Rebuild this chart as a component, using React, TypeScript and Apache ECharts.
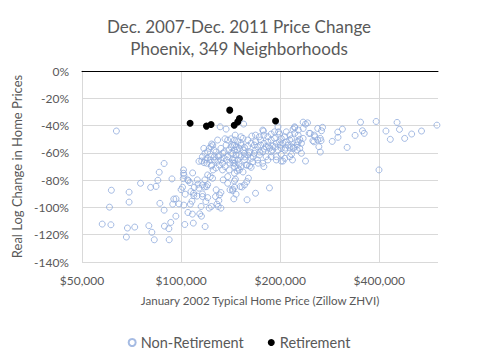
import React, { useEffect, useRef } from 'react';
import * as echarts from 'echarts';

const titleLines = ['Dec. 2007-Dec. 2011 Price Change', 'Phoenix, 349 Neighborhoods'];
const xAxisName = 'January 2002 Typical Home Price (Zillow ZHVI)';
const yAxisName = 'Real Log Change in Home Prices';
const seriesNames = ['Non-Retirement', 'Retirement'];

// x axis: log base 2 of price, ticks at $50,000 x 2^n
const xMinPrice = 50000;
const xMaxPrice = 603000;
// y axis in percent
const yMin = -140;
const yMax = 0;
const yInterval = 20;

// [January 2002 ZHVI in $ thousands, real log change in %]
const nonRetirement: [number, number][] = [
  [63.6,-44.0],[57.6,-112.2],[61.2,-112.7],[60.6,-99.8],[61.4,-87.4],[69.5,-88.8],[69.5,-96.1],[68.2,-121.7],[68.7,-115.1],[72.3,-114.4],
  [75.3,-82.3],[79.8,-113.4],[81.5,-118.2],[82.9,-123.7],[80.8,-85.3],[83.9,-84.6],[85.0,-80.1],[85.8,-74.2],[86.2,-97.0],[88.8,-102.0],
  [88.8,-67.8],[89.0,-113.7],[91.8,-115.6],[92.0,-123.7],[93.0,-111.0],[93.8,-79.1],[94.3,-97.6],[95.0,-93.9],[96.4,-106.4],[96.5,-93.7],
  [98.5,-97.4],[100,-86.9],[101.0,-85.2],[101.5,-78.9],[101.7,-75.0],[101.7,-72.5],[102,-76.5],[101.9,-98.3],[102.6,-112.5],[102.9,-90.3],
  [104.9,-103.7],[105.2,-80.4],[106.4,-81.8],[106.7,-97.6],[108.4,-74.7],[108.2,-104.9],[108.9,-111.5],[107.9,-95.4],[109.1,-89.6],[109.7,-85.2],
  [111.7,-91.7],[112.5,-83.0],[113.3,-66.2],[113.9,-104.7],[115.3,-106.4],[115.0,-99.3],[116.1,-90.1],[117.8,-85.0],[118.3,-114.0],[118.9,-95.7],
  [119.5,-84.7],[120.4,-83.3],[118.1,-79.8],[120.4,-76.2],[120.4,-92.8],[121.7,-100.5],[122.6,-65.2],[123.5,-69.6],[123.5,-99.3],[122.6,-77.4],
  [125.1,-72.5],[127.2,-92.0],[127.8,-87.1],[128.5,-97.6],[129.6,-99.3],[130.2,-95.0],[130.8,-90.8],[132.1,-89.1],[132.1,-100.5],[131.4,-40.9],
  [137,-42.6],[129.1,-50.6],[135.9,-49.7],[138.5,-50.6],[141.8,-49.7],[123.8,-53.5],[123.3,-55.5],[121.7,-56.7],[120.4,-59.2],[118.1,-60.3],
  [116.1,-62.8],[117.5,-67.2],[118.6,-65.2],[119.8,-67.6],[117.2,-56.7],[125.9,-57.9],
  [120.4,-64.0],[123.3,-62.8],[126.2,-62.8],[126.2,-65.2],[129.6,-62.8],[132.1,-65.2],[133.6,-67.6],[135.2,-64.0],[138.5,-62.8],[141.8,-60.3],
  [145.2,-57.9],[132.1,-56.7],[135.2,-59.2],[141.8,-55.5],[145.2,-54.3],[145.2,-65.2],[145.2,-70.1],[143.7,-67.4],[145.2,-74.9],[146.2,-79.3],
  [143.4,-86.6],[145.2,-85.2],[151.3,-84.7],[127.6,-71.1],[130.5,-68.9],[133.6,-72.5],[136.1,-70.1],[140,-72.5],[138.5,-77.4],[134.2,-79.8],
  [138.5,-82.3],[140.8,-87.1],[148.0,-73.3],[150.0,-68.2],
  [154.9,-38.9],[164.0,-47.7],[168.3,-47.0],[172.9,-48.2],[177.9,-44.0],[196.9,-40.9],[197.7,-44.6],[199.1,-46.2],[221.4,-41.6],[234.8,-37.5],
  [242.1,-38.0],[238.7,-38.9],[218.9,-42.6],[221.3,-45.7],[226.7,-47.0],[229.3,-50.1],[216.4,-49.7],[213.8,-50.6],[219.3,-56.0],[232.0,-60.3],
  [238.7,-66.0],[217.9,-65.2],[213.8,-62.8],[216.4,-61.1],[201.5,-66.0],[203.9,-66.0],[185.5,-85.7],[168.3,-89.6],[158.6,-94.4],[160.1,-78.6],
  [158.3,-81.1],[155.8,-83.5],[153.2,-85.0],[145.2,-80.6],[146.9,-90.3],[144.6,-93.7],[143.4,-87.7],[163.2,-70.6],[161.4,-69.6],[171.4,-67.6],
  [187.8,-62.8],[194.6,-62.8],[206.5,-57.9],[213.8,-56.2],[220.0,-56.7],
  [145.2,-50.6],[148.6,-51.9],[152.0,-53.0],[146.9,-55.5],[150.3,-56.7],[155.8,-56.0],[159.4,-55.0],[163.2,-53.0],[166.9,-54.3],[170.7,-55.5],
  [174.4,-54.3],[178.4,-53.0],[183.5,-51.9],[187.8,-50.6],[192.2,-49.4],[181.2,-55.5],[185.5,-56.7],[189.9,-55.0],[194.6,-53.0],[143.4,-60.3],
  [146.9,-61.6],[152.0,-62.8],[155.8,-60.3],[159.4,-61.6],[163.2,-64.0],[166.9,-60.3],[172.9,-61.6],[177.0,-59.2],[181.2,-62.8],[165.1,-66.5],
  [155.8,-65.2],[148.6,-65.2],[145.2,-67.6],[152.0,-70.1],[157.6,-68.9],[199.1,-51.9],[201.5,-49.4],[203.9,-53.0],[208.7,-51.9],[211.2,-54.3],
  [206.5,-48.2],[201.5,-56.7],[196.9,-57.9],[201.5,-61.1],[206.5,-64.0],[183.5,-65.2],[177.0,-67.6],[187.8,-59.2],[194.6,-65.2],[208.7,-44.6],
  [213.8,-47.0],[187.8,-46.2],[183.5,-48.2],[192.2,-44.6],[174.4,-50.6],[168.3,-51.9],[159.4,-50.6],[154.2,-49.4],[143.4,-54.3],[143.4,-65.2],
  [150.3,-72.5],[161.4,-59.2],[170.7,-65.2],[178.4,-70.1],[216.4,-55.5],[225.2,-54.3],[227.0,-51.9],[232.0,-53.0],[225.2,-57.9],[229.3,-56.7],
  [234.8,-49.4],[234.8,-42.1],[227.0,-43.3],
  [244.8,-45.7],[260.0,-42.1],[268.9,-41.3],[267.0,-43.8],[253.8,-47.0],[264.7,-49.4],[260.0,-50.6],[266.1,-51.1],[253.1,-51.9],[262.1,-55.5],
  [264.7,-59.4],[287.8,-51.6],[299.1,-44.8],[309.0,-42.6],[299.6,-48.6],[319.4,-56.0],[337.7,-47.2],[350.7,-37.5],[355.5,-43.8],[359.9,-45.7],
  [391.3,-37.0],[399.1,-72.5],[419.0,-44.0],[432.0,-50.1],[452.9,-37.7],[460.6,-42.8],[477.6,-49.4],[501.6,-46.2],[537.3,-44.0],[598.5,-39.7],
  [255,-48.2],[251.3,-51.1],[246.7,-45.7],[225,-51.9],
  [104.7,-79.8],[107.1,-88.4],[113.3,-85.9],[116.1,-83.5],[112.0,-79.8],[115.5,-66.0],[124.6,-78.6],[109.3,-91.3],[116.1,-92.0],
  [177.0,-43.3],[178.4,-47.0],[152.0,-48.2],[221.3,-40.9],
  [124.8,-54.3],[127.6,-59.4],[130.2,-61.6],[133.9,-60.3],[137,-54.3],[139.7,-57.9],[137.8,-65.2],[140.7,-67.4],[129.3,-66.0],[124,-68.9],
  [148,-57.9],[150,-61.6],[154.2,-57.9],[156,-63.0],[161,-60.1],[165.5,-63.0],[168.3,-57.9],[173.5,-59.4],[178.8,-57.2],[183.9,-55.0],
  [189.2,-57.9],[193.2,-55.7],[200,-54.3],[207.3,-56.5],[148.9,-71.1],[154.2,-74.0],[158.6,-68.9],[152,-54.3],[146,-47.0],
];

const retirement: [number, number][] = [
  [106.5,-38.3],[119.4,-40.4],[123.3,-39.2],[140.5,-28.7],[145,-39.7],[148.6,-37.3],[150.4,-34.8],[193.6,-36.7],
];

const toX = (priceK: number) => Math.log2((priceK * 1000) / xMinPrice);
const xMax = Math.log2(xMaxPrice / xMinPrice);

const FONT = 'Lato, "Liberation Sans", sans-serif';
const TEXT = '#595959';
const GRID = '#d9d9d9';

export default function App() {
  const ref = useRef<HTMLDivElement>(null);
  useEffect(() => {
    document.body.style.margin = '0';
    const chart = echarts.init(ref.current!, undefined, { renderer: 'svg' });
    const xLabel = (v: number) => {
      const r = Math.round(v);
      if (Math.abs(v - r) > 1e-6) return '';
      return '$' + (xMinPrice * Math.pow(2, r)).toLocaleString('en-US');
    };
    chart.setOption({
      animation: false,
      textStyle: { fontFamily: FONT },
      title: {
        text: titleLines.join('\n'),
        left: 'center',
        top: 10,
        textStyle: { fontFamily: FONT, fontSize: 17, fontWeight: 'normal', color: TEXT, lineHeight: 22 },
      },
      grid: { left: 82, top: 71, right: 40, bottom: 94, containLabel: false },
      legend: {
        left: 'center',
        top: 330,
        itemWidth: 7,
        itemHeight: 7,
        itemGap: 24,
        icon: 'circle',
        textStyle: { fontFamily: FONT, fontSize: 14.5, color: TEXT },
        data: seriesNames,
      },
      xAxis: [
        {
          type: 'value',
          min: 0,
          max: xMax,
          interval: 1,
          position: 'bottom',
          name: xAxisName,
          nameLocation: 'middle',
          nameGap: 32,
          nameTextStyle: { fontFamily: FONT, fontSize: 11.6, color: TEXT },
          axisLine: { show: false, onZero: false },
          axisTick: { show: false },
          axisLabel: { formatter: xLabel, fontFamily: FONT, fontSize: 12, color: TEXT, margin: 12, showMaxLabel: false },
          splitLine: { show: true, showMinLine: false, showMaxLine: false, lineStyle: { color: GRID, width: 1 } },
        },
        {
          type: 'value',
          min: 0,
          max: xMax,
          interval: 1,
          position: 'top',
          axisLine: { show: true, onZero: false, lineStyle: { color: '#000', width: 1 } },
          axisTick: { show: false },
          axisLabel: { show: false },
          splitLine: { show: false },
        },
      ],
      yAxis: {
        type: 'value',
        min: yMin,
        max: yMax,
        interval: yInterval,
        name: yAxisName,
        nameLocation: 'middle',
        nameGap: 51,
        nameTextStyle: { fontFamily: FONT, fontSize: 13, color: TEXT },
        axisLine: { show: true, lineStyle: { color: GRID } },
        axisTick: { show: false },
        axisLabel: { formatter: (v: number) => `${v}%`, fontFamily: FONT, fontSize: 12, color: TEXT, margin: 13 },
        splitLine: { show: true, lineStyle: { color: GRID, width: 1 } },
      },
      series: [
        {
          name: seriesNames[0],
          type: 'scatter',
          xAxisIndex: 0,
          symbol: 'circle',
          symbolSize: 6,
          itemStyle: { color: 'rgba(255,255,255,0)', borderColor: '#8faadc', borderWidth: 1 },
          data: nonRetirement.map(([p, c]) => [toX(p), c]),
          z: 3,
        },
        {
          name: seriesNames[1],
          type: 'scatter',
          xAxisIndex: 0,
          symbol: 'circle',
          symbolSize: 7,
          itemStyle: { color: '#000000', opacity: 1 },
          data: retirement.map(([p, c]) => [toX(p), c]),
          z: 4,
        },
      ],
    });
    return () => chart.dispose();
  }, []);
  return <div ref={ref} style={{ width: 478, height: 356 }} />;
}
